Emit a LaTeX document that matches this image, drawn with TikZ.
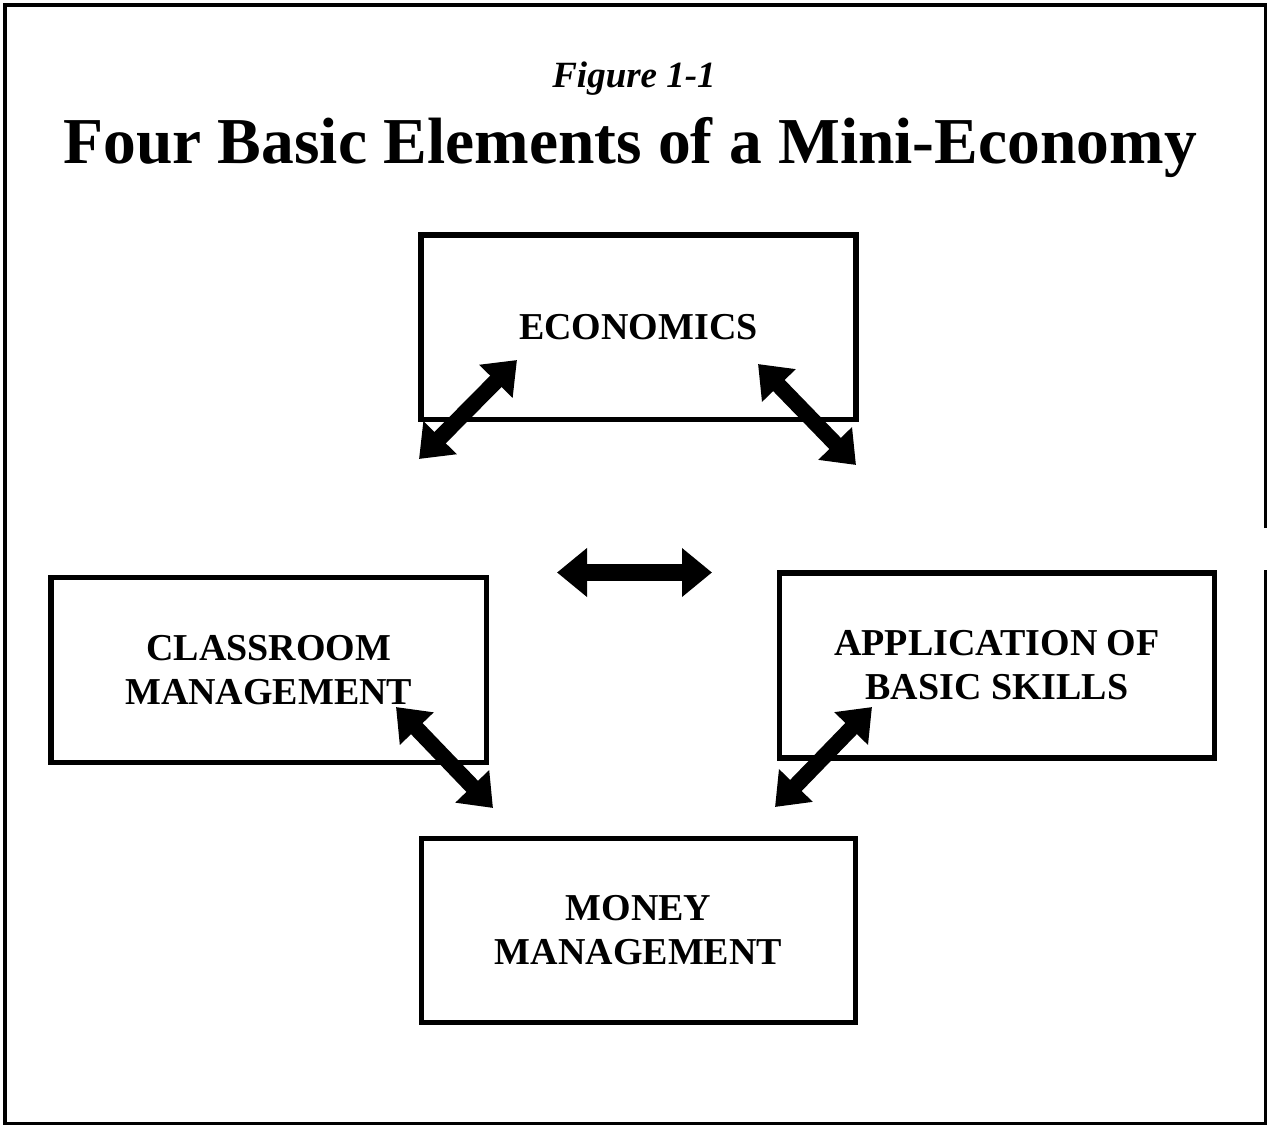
\documentclass[tikz,border=0pt]{standalone}
\usepackage{fontspec}
\setmainfont{Liberation Serif}
\usetikzlibrary{arrows.meta}
\tikzset{
  elembox/.style={draw, line width=5.5pt, inner sep=0pt, align=center,
    font=\fontsize{38}{44}\selectfont\bfseries},
  dblarrow/.style={line width=16pt,
    {Triangle[length=30pt,width=45pt]}-{Triangle[length=30pt,width=45pt]}},
  frameline/.style={line width=4pt}
}
\begin{document}
\begin{tikzpicture}[x=1pt,y=-1pt]
\useasboundingbox (0,0) rectangle (1267,1125);
% outer frame with gap on the right side
\draw[frameline] (1265.5,528) -- (1265.5,5) -- (5,5) -- (5,1123.5) -- (1265.5,1123.5) -- (1265.5,570);
% titles
\node[anchor=base, font=\fontsize{37}{40}\selectfont\bfseries\itshape] (fig) at (634,87) {Figure 1-1};
\node[anchor=base, font=\fontsize{65.5}{70}\selectfont\bfseries] (title) at (630,163) {Four Basic Elements of a Mini-Economy};
% boxes
\node[elembox, minimum width=435pt, minimum height=184.5pt] (econ) at (638.5,327.25) {ECONOMICS};
\node[elembox, minimum width=435.5pt, minimum height=185pt] (class) at (268.75,669.75) {CLASSROOM\\MANAGEMENT};
\node[elembox, minimum width=435pt, minimum height=185pt] (appl) at (997,665.5) {APPLICATION OF\\BASIC SKILLS};
\node[elembox, minimum width=434pt, minimum height=184pt] (money) at (638.5,930.5) {MONEY\\MANAGEMENT};
% arrow end points
\coordinate (a1s) at (419,459);
\coordinate (a1e) at (517,360);
\coordinate (a2s) at (758,364);
\coordinate (a2e) at (856,465);
\coordinate (a3s) at (557,572.5);
\coordinate (a3e) at (712,572.5);
\coordinate (a4s) at (396,707);
\coordinate (a4e) at (493,808);
\coordinate (a5s) at (872,707);
\coordinate (a5e) at (775,807);
% arrows
\draw[dblarrow] (a1s) -- (a1e);
\draw[dblarrow] (a2s) -- (a2e);
\draw[dblarrow, line width=17pt, {Triangle[length=30pt,width=47pt]}-{Triangle[length=30pt,width=47pt]}] (a3s) -- (a3e);
\draw[dblarrow] (a4s) -- (a4e);
\draw[dblarrow] (a5s) -- (a5e);
\end{tikzpicture}
\end{document}
